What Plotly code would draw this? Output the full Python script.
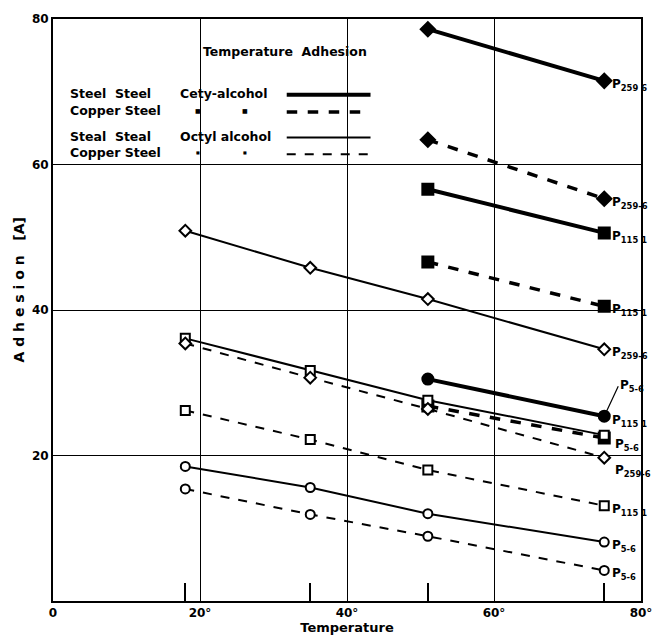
import plotly.graph_objects as go

# ---------------- data ----------------
x_octyl = [18, 35, 51, 75]
x_cetyl = [51, 75]

cetyl_ss_259 = [78.6, 71.5]
cetyl_cs_259 = [63.4, 55.3]
cetyl_ss_115 = [56.6, 50.6]
cetyl_cs_115 = [46.6, 40.5]
cetyl_ss_56 = [30.5, 25.4]
cetyl_cs_56 = [26.8, 22.4]

octyl_ss_259 = [50.9, 45.8, 41.5, 34.6]
octyl_ss_115 = [36.1, 31.7, 27.6, 22.8]
octyl_cs_259 = [35.4, 30.7, 26.4, 19.7]
octyl_cs_115 = [26.2, 22.2, 18.0, 13.1]
octyl_ss_56 = [18.5, 15.6, 12.0, 8.1]
octyl_cs_56 = [15.4, 11.9, 8.9, 4.2]

x_ticks = [0, 20, 40, 60, 80]
x_ticktext = ["0", "20°", "40°", "60°", "80°"]
y_ticks = [20, 40, 60, 80]
y_ticktext = ["20", "40", "60", "80"]

# series: (name, x, y, label subscript, kind, marker symbol)
series = [
    ("Steel Steel Cetyl 259-6", x_cetyl, cetyl_ss_259, "259 6", "thick_solid", "diamond"),
    ("Copper Steel Cetyl 259-6", x_cetyl, cetyl_cs_259, "259-6", "thick_dash", "diamond"),
    ("Steel Steel Cetyl 115-1", x_cetyl, cetyl_ss_115, "115 1", "thick_solid", "square"),
    ("Copper Steel Cetyl 115-1", x_cetyl, cetyl_cs_115, "115 1", "thick_dash", "square"),
    ("Steel Steel Cetyl 5-6", x_cetyl, cetyl_ss_56, "5-6", "thick_solid", "circle"),
    ("Copper Steel Cetyl 5-6", x_cetyl, cetyl_cs_56, "5-6", "thick_dash", "square"),
    ("Steel Steel Octyl 259-6", x_octyl, octyl_ss_259, "259-6", "thin_solid", "diamond"),
    ("Steel Steel Octyl 115-1", x_octyl, octyl_ss_115, "115 1", "thin_solid", "square"),
    ("Copper Steel Octyl 259-6", x_octyl, octyl_cs_259, "259-6", "thin_dash", "diamond"),
    ("Copper Steel Octyl 115-1", x_octyl, octyl_cs_115, "115 1", "thin_dash", "square"),
    ("Steel Steel Octyl 5-6", x_octyl, octyl_ss_56, "5-6", "thin_solid", "circle"),
    ("Copper Steel Octyl 5-6", x_octyl, octyl_cs_56, "5-6", "thin_dash", "circle"),
]

# label offsets (pixels) for the end labels, to avoid collisions
label_shift = {
    "Steel Steel Octyl 115-1": (6, 18),
    "Copper Steel Cetyl 5-6": (9, -3),
    "Copper Steel Octyl 259-6": (9, -9),
}
arrow_labels = {"Steel Steel Cetyl 5-6": (14, -30)}

styles = {
    "thick_solid": dict(width=4, dash="solid"),
    "thick_dash": dict(width=3.5, dash="dash"),
    "thin_solid": dict(width=2, dash="solid"),
    "thin_dash": dict(width=2, dash="dash"),
}

FONT = "DejaVu Sans"
fig = go.Figure()

for name, xs, ys, sub, kind, sym in series:
    st = styles[kind]
    thick = kind.startswith("thick")
    fig.add_trace(go.Scatter(
        x=xs, y=ys, mode="lines+markers", name=name,
        line=dict(color="black", width=st["width"], dash=st["dash"]),
        marker=dict(symbol=sym, size=11 if thick else 9,
                    color="black" if thick else "white",
                    line=dict(color="black", width=2)),
        showlegend=False, hoverinfo="skip",
    ))
    lab_font = dict(family=FONT, size=12, color="black")
    if name in arrow_labels:
        ax, ay = arrow_labels[name]
        fig.add_annotation(
            x=xs[-1], y=ys[-1], xref="x", yref="y",
            text=f"<b>P<sub>{sub}</sub></b>", showarrow=True,
            arrowhead=0, arrowwidth=1.2, arrowcolor="black", standoff=5,
            ax=ax, ay=ay, xanchor="left", yanchor="middle", font=lab_font,
        )
    else:
        dx, dy = label_shift.get(name, (6, 0))
        fig.add_annotation(
            x=xs[-1], y=ys[-1], xref="x", yref="y",
            text=f"<b>P<sub>{sub}</sub></b>", showarrow=False,
            xanchor="left", yanchor="middle", xshift=dx, yshift=dy - 4,
            font=lab_font,
        )

# small ticks at measurement temperatures
fig.add_trace(go.Scatter(x=x_octyl, y=[0] * len(x_octyl), xaxis="x2", yaxis="y",
                         mode="markers", marker=dict(opacity=0), showlegend=False,
                         hoverinfo="skip"))

# ---------------- legend block ----------------
tf = dict(family=FONT, size=12.5, color="black")
fig.add_annotation(x=31.5, y=75.6, text="<b>Temperature  Adhesion</b>", showarrow=False,
                   font=dict(family=FONT, size=12.5, color="black"))
rows = [
    (69.8, "Steel  Steel", "Cety-alcohol", "thick_solid", 6),
    (67.4, "Copper Steel", None, "thick_dash", 6),
    (63.9, "Steal  Steal", "Octyl alcohol", "thin_solid", 4),
    (61.6, "Copper Steel", None, "thin_dash", 4),
]
for yv, left, mid, kind, dsz in rows:
    fig.add_annotation(x=2.0, y=yv, text=f"<b>{left}</b>", showarrow=False,
                       xanchor="left", font=tf)
    if mid:
        fig.add_annotation(x=17.0, y=yv, text=f"<b>{mid}</b>", showarrow=False,
                           xanchor="left", font=tf)
    else:
        for xm in (19.7, 26.1):
            fig.add_annotation(x=xm, y=yv, text="■", showarrow=False,
                               font=dict(family=FONT, size=dsz, color="black"))
    st = styles[kind]
    fig.add_shape(type="line", x0=31.8, x1=43.2, y0=yv - 0.2, y1=yv - 0.2,
                  xref="x", yref="y",
                  line=dict(color="black", width=st["width"], dash=st["dash"]))

# y-axis title (placed slightly above centre as in the original)
fig.add_annotation(x=-0.058, y=0.535, xref="paper", yref="paper",
                   text="<b>A d h e s i o n   [A]</b>", textangle=-90,
                   showarrow=False, xanchor="center", yanchor="middle",
                   font=dict(family=FONT, size=14, color="black"))

fig.update_layout(
    width=664, height=642,
    margin=dict(l=53, r=14, t=17, b=32),
    paper_bgcolor="white", plot_bgcolor="white",
    font=dict(family=FONT, size=12, color="black"),
    xaxis=dict(range=[0, 80], tickvals=x_ticks, ticktext=x_ticktext,
               showgrid=True, gridcolor="black", gridwidth=1.2,
               showline=True, linecolor="black", linewidth=2, mirror=True,
               ticks="", zeroline=False,
               tickfont=dict(family=FONT, size=12, color="black", weight="bold"),
               title=dict(text="<b>Temperature</b>", standoff=0,
                          font=dict(family=FONT, size=13, color="black"))),
    xaxis2=dict(range=[0, 80], overlaying="x", side="bottom", anchor="y",
                tickvals=x_octyl, showticklabels=False, ticks="inside",
                ticklen=18, tickwidth=1.5, tickcolor="black", showgrid=False,
                zeroline=False, showline=False),
    yaxis=dict(range=[0, 80], tickvals=y_ticks, ticktext=y_ticktext,
               showgrid=True, gridcolor="black", gridwidth=1.2,
               showline=True, linecolor="black", linewidth=2, mirror=True,
               ticks="", zeroline=False,
               tickfont=dict(family=FONT, size=12, color="black", weight="bold")),
)

fig.write_html("out.html")
